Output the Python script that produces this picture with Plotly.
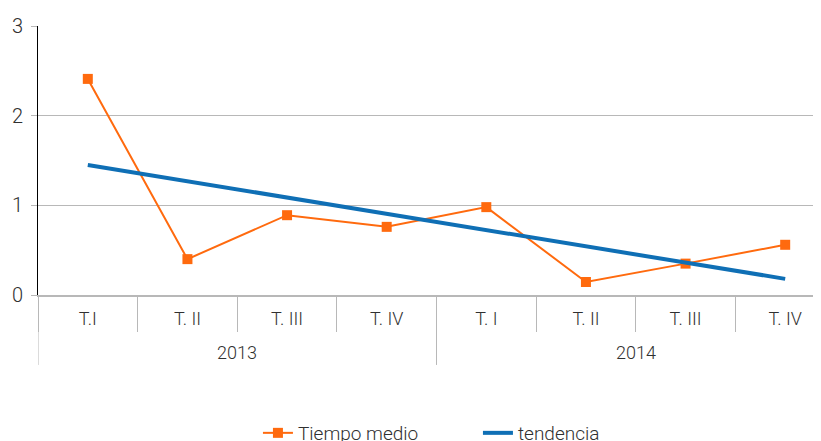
import plotly.graph_objects as go

years = ["2013", "2014"]
quarters = ["T.I", "T. II", "T. III", "T. IV", "T. I", "T. II", "T. III", "T. IV"]
tiempo_medio = [2.41, 0.40, 0.89, 0.76, 0.98, 0.145, 0.35, 0.56]
tendencia = [1.45, 1.27, 1.09, 0.91, 0.72, 0.54, 0.36, 0.18]
y_ticks = [0, 1, 2, 3]

x_pos = list(range(len(quarters)))
per_year = len(quarters) // len(years)

FONT = "Roboto, sans-serif"
TXT = "#303030"
GRAY = "#b8b8b8"

fig = go.Figure()
fig.add_trace(go.Scatter(
    x=x_pos, y=tiempo_medio, name="Tiempo medio",
    mode="lines+markers",
    line=dict(color="#FF6A0E", width=2),
    marker=dict(symbol="square", size=10, color="#FF6A0E"),
))
fig.add_trace(go.Scatter(
    x=x_pos, y=tendencia, name="tendencia",
    mode="lines",
    line=dict(color="#0F6FB5", width=4),
))

# year labels and dividers
for i, yr in enumerate(years):
    center = i * per_year + (per_year - 1) / 2
    fig.add_annotation(x=center, xref="x", y=-0.212, yref="paper",
                       text=yr, showarrow=False, yanchor="middle",
                       font=dict(family=FONT, size=18, color=TXT, weight=300))
    fig.add_shape(type="line", xref="x", yref="paper",
                  x0=i * per_year - 0.5, x1=i * per_year - 0.5,
                  y0=0, y1=-0.26, line=dict(color=GRAY, width=1))

fig.update_layout(
    width=829, height=449,
    margin=dict(l=30, r=2, t=18, b=162),
    paper_bgcolor="white", plot_bgcolor="white",
    font=dict(family=FONT, size=16, color=TXT, weight=300),
    showlegend=True,
    legend=dict(orientation="h", x=0.552, xanchor="center", y=-0.513, yanchor="middle",
                font=dict(family=FONT, size=19, color=TXT, weight=300), entrywidth=175),
    xaxis=dict(
        range=[-0.5, 7.5],
        tickvals=x_pos, ticktext=quarters,
        showline=True, linecolor=GRAY, linewidth=2,
        ticks="", ticklabelstandoff=6,
        minor=dict(tick0=-0.5, dtick=1, ticks="outside", ticklen=35, tickcolor=GRAY, showgrid=False),
        showgrid=False, zeroline=False, automargin=False,
        tickfont=dict(family=FONT, size=18, color=TXT, weight=300),
    ),
    yaxis=dict(
        range=[0, 3], tickvals=y_ticks,
        showline=True, linecolor="black", linewidth=1,
        ticks="outside", ticklen=6, tickcolor=GRAY,
        ticklabelstandoff=4,
        showgrid=True, gridcolor=GRAY, gridwidth=1,
        zeroline=False, automargin=False,
        tickfont=dict(family=FONT, size=20, color=TXT, weight=300),
    ),
)

fig.write_html("out.html")
